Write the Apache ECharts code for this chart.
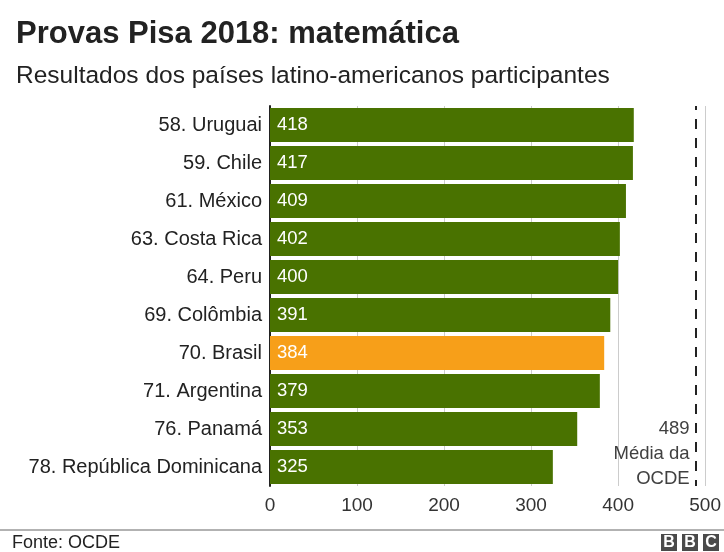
<!DOCTYPE html>
<html>
<head>
<meta charset="utf-8">
<script src="https://cdn.jsdelivr.net/npm/echarts@6/dist/echarts.min.js"></script>
<style>
  html, body { margin: 0; padding: 0; background: #fff; }
  #chart { width: 724px; height: 552px; }
</style>
</head>
<body>
<div id="chart"></div>
<script>
const countries = [
  '58. Uruguai', '59. Chile', '61. México', '63. Costa Rica', '64. Peru',
  '69. Colômbia', '70. Brasil', '71. Argentina', '76. Panamá', '78. República Dominicana'
];
const scores = [418, 417, 409, 402, 400, 391, 384, 379, 353, 325];
const highlight = '70. Brasil';
const oecdMean = 489;
const xTicks = [0, 100, 200, 300, 400, 500];

const FONT = '"Liberation Sans", Arial, Helvetica, sans-serif';
const GREEN = '#497200';
const ORANGE = '#f79f19';

const chart = echarts.init(document.getElementById('chart'));

const option = {
  animation: false,
  textStyle: { fontFamily: FONT },
  grid: { left: 270, right: 17, top: 106, bottom: 66 },
  xAxis: {
    type: 'value',
    min: xTicks[0],
    max: xTicks[xTicks.length - 1],
    interval: 100,
    axisLine: { show: false },
    axisTick: { show: false },
    axisLabel: { fontSize: 19, color: '#333', margin: 10, fontFamily: FONT },
    splitLine: { lineStyle: { color: '#cccccc', width: 1 } }
  },
  yAxis: {
    type: 'category',
    inverse: true,
    data: countries,
    axisLine: { lineStyle: { color: '#222', width: 2 } },
    axisTick: { show: false },
    axisLabel: { fontSize: 20, color: '#222', margin: 8, fontFamily: FONT }
  },
  series: [{
    type: 'bar',
    barWidth: 34,
    data: scores.map((v, i) => ({
      value: v,
      itemStyle: { color: countries[i] === highlight ? ORANGE : GREEN }
    })),
    label: {
      show: true,
      position: 'insideLeft',
      distance: 7,
      color: '#fff',
      fontSize: 18.5,
      fontFamily: FONT
    },
    markLine: {
      silent: true,
      symbol: ['none', 'none'],
      label: { show: false },
      lineStyle: { color: '#222', type: [10, 9], dashOffset: 6, width: 2 },
      data: [{ xAxis: oecdMean }]
    }
  }]
};

chart.setOption(option);

const meanX = chart.convertToPixel({ xAxisIndex: 0 }, oecdMean);

chart.setOption({
  graphic: [
    {
      type: 'text', left: 16, top: 19,
      style: { text: 'Provas Pisa 2018: matemática', font: 'bold 31px ' + FONT, fill: '#222' }
    },
    {
      type: 'text', left: 16, top: 64,
      style: { text: 'Resultados dos países latino-americanos participantes', font: '24.5px ' + FONT, fill: '#222' }
    },
    {
      type: 'text', x: meanX - 6, y: 416,
      style: {
        text: oecdMean + '\nMédia da\nOCDE',
        font: '18.5px ' + FONT, fill: '#404040',
        align: 'right', lineHeight: 25
      }
    },
    {
      type: 'line', shape: { x1: 0, y1: 530, x2: 724, y2: 530 },
      style: { stroke: '#999', lineWidth: 1.5 }
    },
    {
      type: 'text', left: 12, top: 534,
      style: { text: 'Fonte: OCDE', font: '18px ' + FONT, fill: '#222' }
    },
    {
      type: 'group', left: 661, top: 534,
      children: ['B', 'B', 'C'].flatMap((ch, i) => [
        { type: 'rect', shape: { x: i * 21, y: 0, width: 16, height: 17 }, style: { fill: '#4a4a4a' } },
        { type: 'text', x: i * 21 + 8, y: 9, style: { text: ch, font: 'bold 16px ' + FONT, fill: '#fff', align: 'center', verticalAlign: 'middle' } }
      ])
    }
  ]
});
</script>
</body>
</html>
